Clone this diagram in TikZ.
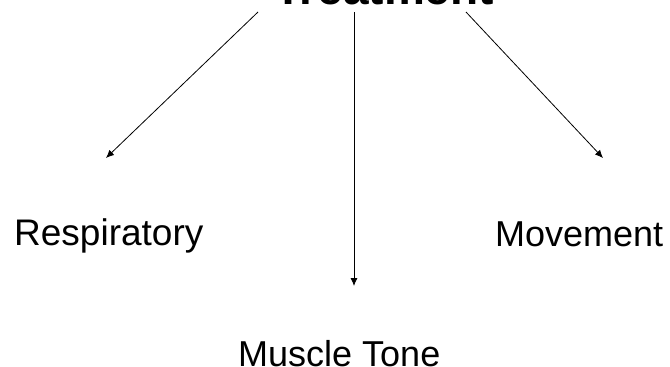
\documentclass[tikz,border=0pt]{standalone}
\usepackage{fontspec}
\setmainfont{Liberation Sans}
\usetikzlibrary{arrows.meta}
\begin{document}
\begin{tikzpicture}[x=1pt,y=-1pt,
  lbl/.style={inner sep=0pt,font=\fontsize{36}{40}\selectfont},
  ttl/.style={inner sep=0pt,font=\fontsize{46}{50}\selectfont\bfseries},
  arr/.style={line width=0.8pt,-{Latex[length=8pt,width=7pt]}}]
\useasboundingbox (0,0) rectangle (670,367);
\clip (0,0) rectangle (670,367);
\node[ttl,anchor=base] (t) at (384,4) {Treatment};
\node[lbl,anchor=base west] (r) at (14,245) {\fontsize{37}{40}\selectfont Respiratory};
\node[lbl,anchor=base west] (m) at (495,246) {Movement};
\node[lbl,anchor=base west] (mt) at (238,366) {Muscle Tone};
\coordinate (s1) at (258,12);
\coordinate (s2) at (354,12);
\coordinate (s3) at (466,12);
\coordinate (e1) at (106,158);
\coordinate (e2) at (354,286);
\coordinate (e3) at (603,158);
\draw[arr] (s1) -- (e1);
\draw[arr] (s2) -- (e2);
\draw[arr] (s3) -- (e3);
\end{tikzpicture}
\end{document}
